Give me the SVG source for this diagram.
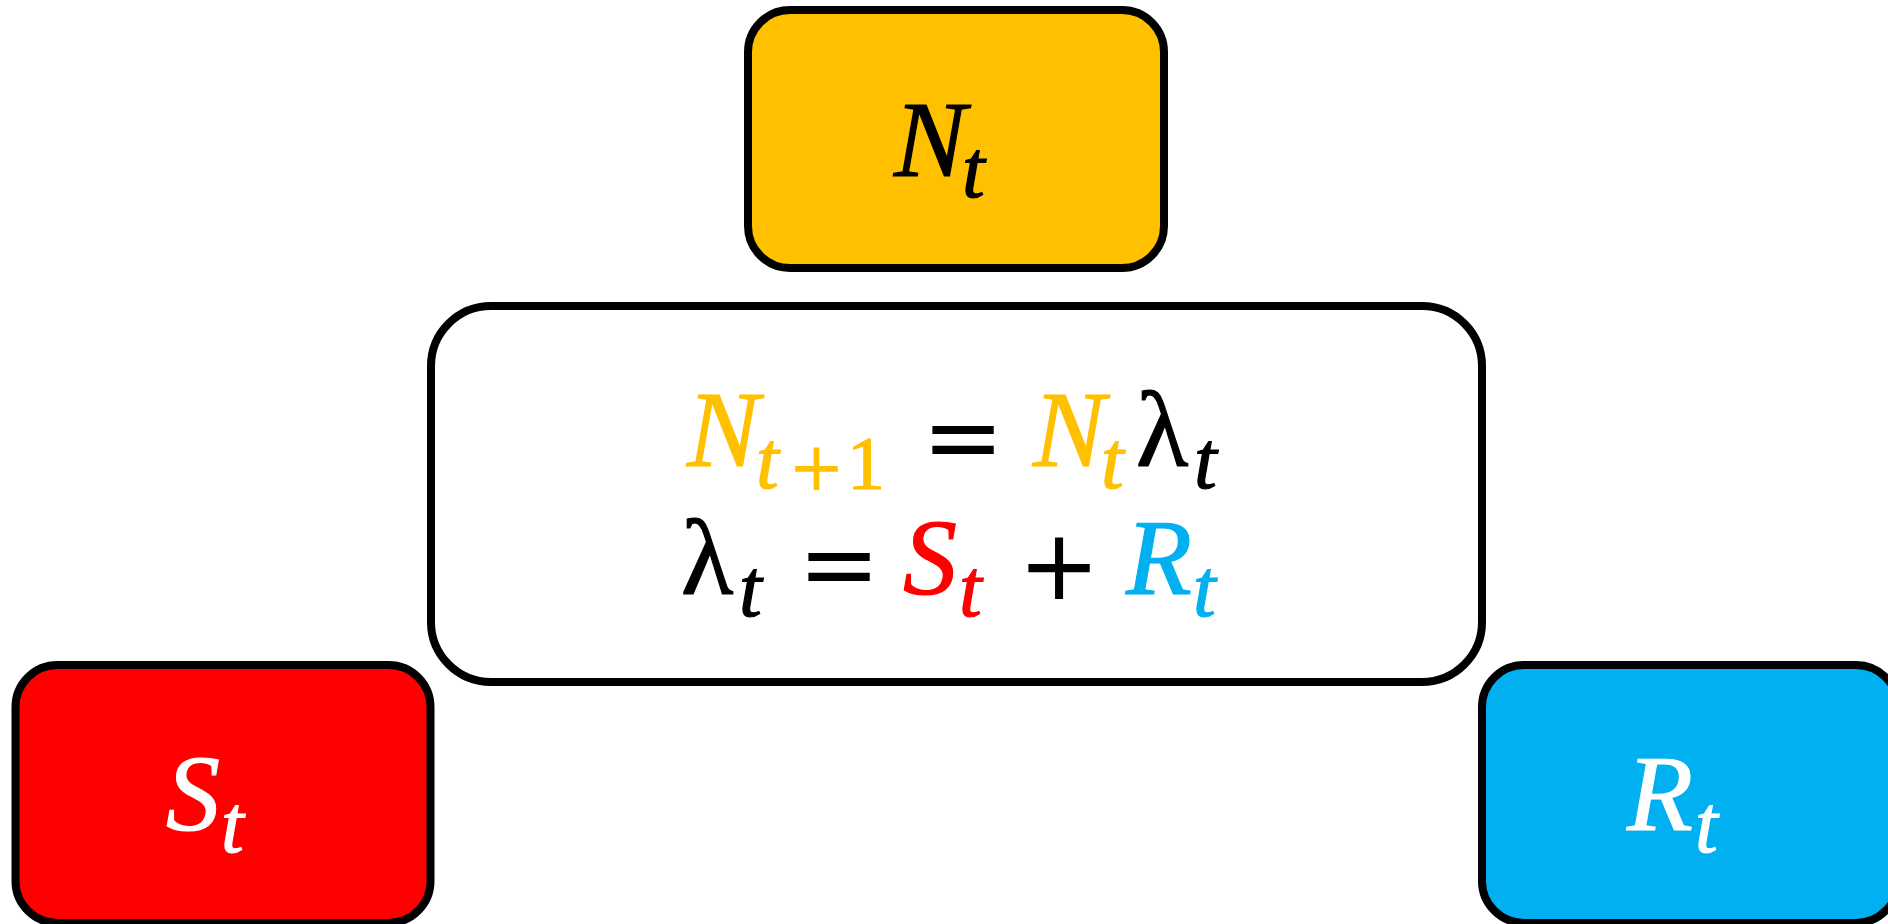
<svg xmlns="http://www.w3.org/2000/svg" width="1888" height="924" viewBox="0 0 1888 924">
<style>
.box{stroke:#000;stroke-width:8}
.m{font-family:"Liberation Serif","DejaVu Serif",serif;font-size:108px;stroke-width:1.2px}
.i{font-style:italic}
.sub{font-size:82px}
.one{font-size:76px;font-style:normal}
.op{font-family:"DejaVu Sans","Liberation Sans",sans-serif;font-size:98px;font-style:normal}
.subop{font-family:"DejaVu Sans","Liberation Sans",sans-serif;font-size:68px;font-style:normal}
.yel{fill:#FFC000;stroke:#FFC000}
.red{fill:#FF0000;stroke:#FF0000}
.blu{fill:#00B0F0;stroke:#00B0F0}
.blk{fill:#000;stroke:#000}
.wht{fill:#FFF;stroke:#FFF}
.op,.subop{stroke:none}
</style>
<rect width="1888" height="924" fill="#fff"/>
<g id="connectors"></g>
<g id="node-N">
<rect class="box" x="748" y="10" width="416" height="258" rx="42" fill="#FFC000"/>
<text class="m i blk"><tspan x="894" y="176">N</tspan><tspan class="sub" x="962" y="197">t</tspan></text>
</g>
<g id="node-equations">
<rect class="box" x="431" y="306" width="1051" height="376" rx="60" fill="#fff"/>
<text class="m i yel"><tspan x="687" y="466">N</tspan><tspan class="sub" x="756" y="488">t</tspan><tspan class="subop" x="788" y="490">+</tspan><tspan class="one" x="847" y="489">1</tspan></text>
<text class="op blk" x="922" y="471">=</text>
<text class="m i"><tspan class="yel" x="1033" y="466">N</tspan><tspan class="sub yel" x="1101" y="488">t</tspan><tspan class="blk" x="1136" y="466" style="font-style:normal">λ</tspan><tspan class="sub blk" x="1194" y="488">t</tspan></text>
<text class="m i blk"><tspan x="681" y="594" style="font-style:normal">λ</tspan><tspan class="sub" x="739" y="616">t</tspan></text>
<text class="op blk" x="798" y="598">=</text>
<text class="m i red"><tspan x="903" y="594">S</tspan><tspan class="sub" x="959" y="616">t</tspan></text>
<text class="op blk" x="1018" y="599">+</text>
<text class="m i blu"><tspan x="1126" y="594">R</tspan><tspan class="sub" x="1193" y="616">t</tspan></text>
</g>
<g id="node-S">
<rect class="box" x="15.5" y="665" width="415" height="258" rx="42" fill="#FF0000"/>
<text class="m i wht"><tspan x="166" y="830">S</tspan><tspan class="sub" x="221" y="852">t</tspan></text>
</g>
<g id="node-R">
<rect class="box" x="1482" y="665" width="416" height="258" rx="42" fill="#00B0F0"/>
<text class="m i wht"><tspan x="1627" y="830">R</tspan><tspan class="sub" x="1695" y="852">t</tspan></text>
</g>
</svg>
